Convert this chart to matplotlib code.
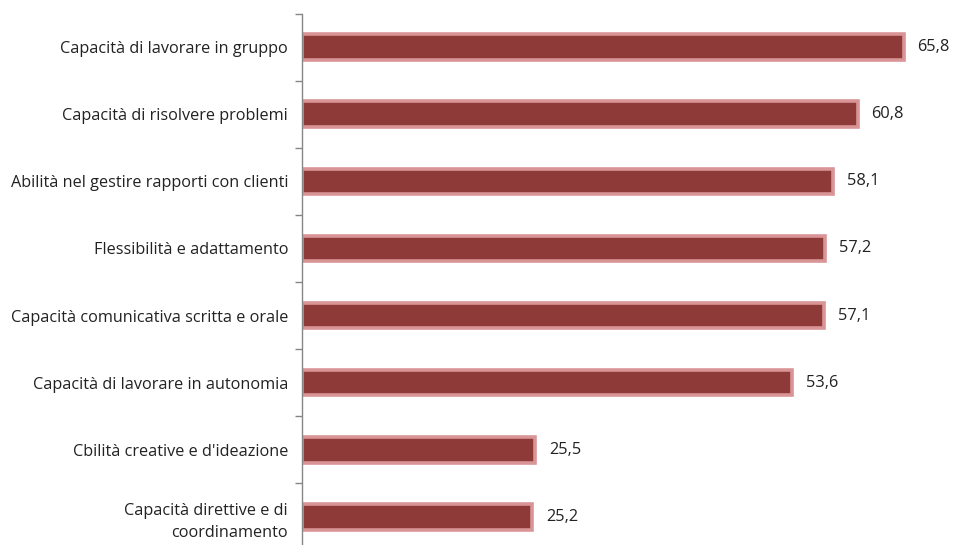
import numpy as np
import matplotlib.pyplot as plt

# data (top to bottom)
labels = ["Capacità di lavorare in gruppo",
          "Capacità di risolvere problemi",
          "Abilità nel gestire rapporti con clienti",
          "Flessibilità e adattamento",
          "Capacità comunicativa scritta e orale",
          "Capacità di lavorare in autonomia",
          "Cbilità creative e d'ideazione",
          "Capacità direttive e di\ncoordinamento"]
values = [65.8, 60.8, 58.1, 57.2, 57.1, 53.6, 25.5, 25.2]

plt.rcParams['font.family'] = ['Open Sans', 'DejaVu Sans']

fig = plt.figure(figsize=(9.55, 5.45), dpi=100)
ax = fig.add_axes([302/955, -0.0101, 640/955, 537/545])

n = len(values)
y = np.arange(n)[::-1]
ax.barh(y, values, height=0.38, color="#8e3a39", edgecolor="#d99496", linewidth=2.6)

for yi, v in zip(y, values):
    ax.text(v + 1.5, yi, f"{v:.1f}".replace(".", ","), va="center", ha="left",
            fontsize=11.8, color="#222222")

ax.set_xlim(0, 70)
ax.set_ylim(-0.5, n - 0.5)
ax.set_yticks(y)
ax.set_yticklabels(labels, fontsize=11.7, color="#222222", ha="right",
                   multialignment="right", linespacing=1.5)
ax.set_yticks(np.arange(-0.5, n, 1), minor=True)
ax.tick_params(axis="y", which="major", length=0, pad=10)
ax.tick_params(axis="y", which="minor", length=5, color="#868686", width=1)
ax.set_xticks([])
for s in ["top", "right", "bottom"]:
    ax.spines[s].set_visible(False)
ax.spines["left"].set_color("#868686")
ax.spines["left"].set_linewidth(1)

fig.savefig("out.png", dpi=100)
